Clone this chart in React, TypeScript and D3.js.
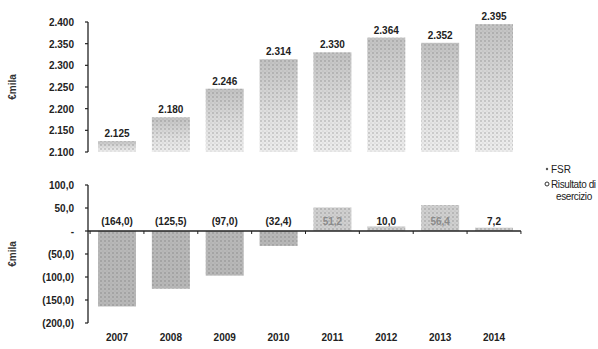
import React from "react";
import * as d3 from "d3";

const years = ["2007", "2008", "2009", "2010", "2011", "2012", "2013", "2014"];
const fsr = [2125, 2180, 2246, 2314, 2330, 2364, 2352, 2395];
const fsrLabels = ["2.125", "2.180", "2.246", "2.314", "2.330", "2.364", "2.352", "2.395"];
const result = [-164.0, -125.5, -97.0, -32.4, 51.2, 10.0, 56.4, 7.2];
const resultLabels = ["(164,0)", "(125,5)", "(97,0)", "(32,4)", "51,2", "10,0", "56,4", "7,2"];
const topTicks = [2100, 2150, 2200, 2250, 2300, 2350, 2400];
const topTickLabels = ["2.100", "2.150", "2.200", "2.250", "2.300", "2.350", "2.400"];
const botTicks = [100, 50, 0, -50, -100, -150, -200];
const botTickLabels = ["100,0", "50,0", "-", "(50,0)", "(100,0)", "(150,0)", "(200,0)"];
const legendItems = ["FSR", "Risultato di", "esercizio"];

const FONT = "'Liberation Sans', Arial, sans-serif";

export default function App() {
  const x = d3.scalePoint<string>().domain(years).range([117, 494]);
  const step = x.step();
  const bw = 38;
  const yTop = d3.scaleLinear().domain([2100, 2400]).range([152, 22]);
  const yBot = d3.scaleLinear().domain([-200, 100]).range([323, 185]);
  const axisX = 88;
  const left = (x(years[0]) as number) - step / 2;
  const right = (x(years[years.length - 1]) as number) + step / 2;

  return (
    <svg width={598} height={349} style={{ position: "absolute", left: 0, top: 0, background: "#fff" }}>
      <defs>
        <linearGradient id="gTop" x1="0" y1="0" x2="0" y2="1">
          <stop offset="0%" stopColor="#a8a8a8" />
          <stop offset="60%" stopColor="#d4d4d4" />
          <stop offset="100%" stopColor="#e6e6e6" />
        </linearGradient>
        <pattern id="dots" width="4" height="4" patternUnits="userSpaceOnUse">
          <rect width="4" height="4" fill="transparent" />
          <circle cx="1" cy="1" r="0.8" fill="#555" opacity="0.45" />
          <circle cx="3" cy="3" r="0.6" fill="#777" opacity="0.35" />
        </pattern>
      </defs>

      {/* top axis */}
      <line x1={axisX} x2={axisX} y1={yTop(2400)} y2={yTop(2100)} stroke="#222" strokeWidth={1.3} />
      {topTicks.map((t, i) => (
        <g key={"tt" + i}>
          <line x1={axisX - 3} x2={axisX} y1={yTop(t)} y2={yTop(t)} stroke="#222" strokeWidth={1.2} />
          <text x={74} y={yTop(t) + 4} textAnchor="end" fontFamily={FONT} fontSize={10} fontWeight="bold" fill="#222">
            {topTickLabels[i]}
          </text>
        </g>
      ))}
      <text transform={`translate(16,${yTop(2250)}) rotate(-90)`} textAnchor="middle" fontFamily={FONT} fontSize={10} fontWeight="bold" fill="#333">€mila</text>

      {years.map((yr, i) => {
        const cx = x(yr) as number;
        return (
          <g key={"tb" + yr}>
            <rect x={cx - bw / 2} y={yTop(fsr[i])} width={bw} height={yTop(2100) - yTop(fsr[i])} fill="url(#gTop)" opacity={0.7} />
            <rect x={cx - bw / 2} y={yTop(fsr[i])} width={bw} height={yTop(2100) - yTop(fsr[i])} fill="url(#dots)" />
            <text x={cx} y={yTop(fsr[i]) - 4} textAnchor="middle" fontFamily={FONT} fontSize={10} fontWeight="bold" fill="#222">
              {fsrLabels[i]}
            </text>
          </g>
        );
      })}

      {/* bottom axis */}
      <line x1={axisX} x2={axisX} y1={yBot(100)} y2={yBot(-200)} stroke="#222" strokeWidth={1.3} />
      {botTicks.map((t, i) => (
        <g key={"bt" + i}>
          <line x1={axisX - 3} x2={axisX} y1={yBot(t)} y2={yBot(t)} stroke="#222" strokeWidth={1.2} />
          <text x={74} y={yBot(t) + 4} textAnchor="end" fontFamily={FONT} fontSize={10} fontWeight="bold" fill="#222">
            {botTickLabels[i]}
          </text>
        </g>
      ))}
      <text transform={`translate(16,${yBot(-50)}) rotate(-90)`} textAnchor="middle" fontFamily={FONT} fontSize={10} fontWeight="bold" fill="#333">€mila</text>

      {years.map((yr, i) => {
        const cx = x(yr) as number;
        const v = result[i];
        const y0 = yBot(Math.max(0, v));
        const h = Math.abs(yBot(v) - yBot(0));
        return (
          <g key={"bb" + yr}>
            <rect x={cx - bw / 2} y={y0} width={bw} height={h} fill="#b0b0b0" opacity={v > 0 ? 0.6 : 0.9} />
            <rect x={cx - bw / 2} y={y0} width={bw} height={h} fill="url(#dots)" />
            <text x={cx} y={yBot(0) - 6} textAnchor="middle" fontFamily={FONT} fontSize={10} fontWeight="bold" fill={v > 40 ? "#8a8a8a" : "#222"}>
              {resultLabels[i]}
            </text>
          </g>
        );
      })}
      <line x1={axisX} x2={right} y1={yBot(0)} y2={yBot(0)} stroke="#222" strokeWidth={1.3} />
      {d3.range(years.length + 1).map((k) => (
        <line key={"xt" + k} x1={left + k * step} x2={left + k * step} y1={yBot(0)} y2={yBot(0) + 3} stroke="#222" strokeWidth={1} />
      ))}
      {years.map((yr) => (
        <text key={"yl" + yr} x={x(yr) as number} y={341} textAnchor="middle" fontFamily={FONT} fontSize={10} fontWeight="bold" fill="#222">
          {yr}
        </text>
      ))}

      {/* legend */}
      <circle cx={547} cy={169} r={1.2} fill="#555" />
      <text x={551} y={173} fontFamily={FONT} fontSize={10} fill="#222">{legendItems[0]}</text>
      <circle cx={547} cy={184} r={2} fill="none" stroke="#333" strokeWidth={1} />
      <text x={551} y={188} fontFamily={FONT} fontSize={10} letterSpacing={-0.4} fill="#222">{legendItems[1]}</text>
      <text x={556} y={200} fontFamily={FONT} fontSize={10} letterSpacing={-0.4} fill="#222">{legendItems[2]}</text>
    </svg>
  );
}
